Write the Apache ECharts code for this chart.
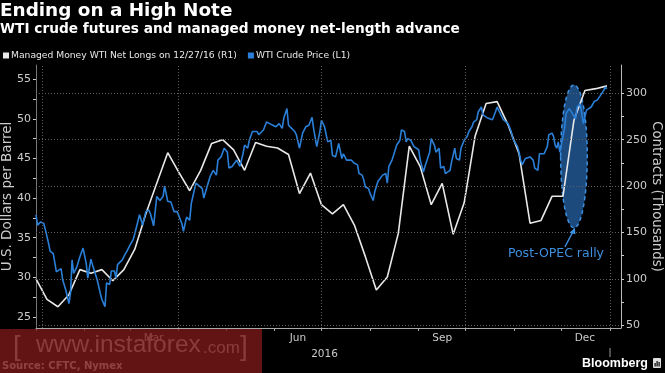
<!DOCTYPE html>
<html><head><meta charset="utf-8">
<script src="https://cdn.jsdelivr.net/npm/echarts@6/dist/echarts.min.js"></script>
<style>html,body{margin:0;padding:0;background:#000;}#c{width:665px;height:373px;}</style>
</head><body><div id="c"></div>
<script>
// x values are days since 2016-01-01
const netLongDays = [0,7,14,21,28,35,42,49,56,63,70,77,84,91,98,105,112,119,126,133,140,147,154,161,168,175,182,189,196,203,210,217,224,231,238,245,252,259,266,273,280,287,294,301,308,315,322,329,336,343,350,357,364];
const netLongs = [100,78,70,83,110,106,110,98,110,132,170,203,236,215,195,217,246,250,239,217,247,243,241,234,192,214,180,170,180,158,124,88,102,149,243,221,180,203,148,182,254,289,291,266,235,160,163,189,189,271,303,305,308];
const priceDays = [0,1,3,5,6,8,9,11,13,14,16,17,19,21,22,23,24,26,28,30,32,33,35,36,39,41,42,44,45,47,48,50,51,52,55,57,58,60,62,63,66,68,70,72,73,75,77,79,81,82,84,86,88,90,91,93,94,96,98,99,100,102,103,106,107,109,111,113,115,116,118,120,122,123,125,128,130,132,133,135,136,138,141,142,145,147,149,151,153,155,157,158,160,161,163,165,166,168,170,172,174,176,177,179,181,182,184,185,186,188,189,191,192,193,195,196,198,199,201,203,205,206,208,209,210,212,213,215,216,218,219,221,223,224,225,227,228,230,232,233,235,236,237,239,241,242,244,245,247,248,250,251,252,254,255,257,258,260,261,264,265,267,268,270,271,273,275,276,278,279,281,282,284,285,286,288,289,291,293,294,296,298,299,301,302,303,304,305,307,308,309,310,312,313,315,317,318,320,321,322,324,326,327,329,330,331,332,333,334,335,337,338,340,341,342,344,345,347,348,349,351,352,354,356,358,360,362,363,364];
const priceValues = [37.9,36.6,37.0,36.8,36.0,34.3,33.3,33.0,30.7,30.5,31.1,29.7,28.4,26.7,28.0,32.2,30.5,31.3,32.6,33.7,31.8,29.9,32.3,31.6,29.7,28.0,27.2,26.3,29.3,29.1,30.8,30.8,29.9,31.6,32.2,33.0,33.3,34.1,34.8,35.5,37.9,36.6,38.3,38.5,38.0,36.5,40.2,39.7,40.2,41.5,39.6,39.5,38.3,38.3,38.3,36.8,35.8,37.6,37.2,39.3,40.2,41.9,42.1,41.2,40.0,41.4,42.7,43.5,42.9,44.8,45.2,46.3,45.8,43.8,44.0,44.8,44.0,45.6,46.7,46.3,47.3,48.4,48.4,48.0,48.6,49.6,49.4,49.2,49.0,49.4,48.8,50.1,51.3,49.2,48.8,48.4,48.0,46.3,48.2,49.0,49.2,50.2,48.8,46.5,48.4,49.8,49.0,48.8,47.1,47.3,45.4,45.2,45.4,46.9,45.0,45.6,44.8,45.0,44.8,44.4,44.2,43.1,42.9,42.3,41.4,41.2,40.6,39.7,40.8,42.1,41.9,42.9,43.1,41.9,44.0,44.8,45.4,46.7,47.3,48.6,48.4,47.1,47.5,47.3,46.5,46.7,46.1,44.8,43.3,44.0,45.2,45.8,47.5,46.7,45.8,46.3,43.8,44.0,43.1,43.5,44.6,46.3,45.0,44.8,46.3,47.3,47.8,48.4,49.0,49.6,49.9,50.9,51.5,50.5,50.5,50.1,50.3,49.9,50.9,51.5,50.7,49.9,50.1,49.4,49.2,48.4,47.5,47.3,46.5,45.8,44.8,44.2,45.0,44.8,45.2,44.8,43.8,43.5,45.6,45.4,45.6,46.5,48.0,48.2,47.8,46.7,46.3,47.1,45.8,46.0,48.8,50.7,51.3,51.1,50.7,50.0,51.5,51.9,51.7,49.4,51.1,51.3,51.5,52.2,52.4,53.0,53.6,54.0,53.8];

const monthStartDays = [0,31,60,91,121,152,182,213,244,274,305,335,366];
const monthLabelDays = [75,167,259,350];
const monthLabels = ['Mar','Jun','Sep','Dec'];
const yearLabel = '2016';
const quarterLineDays = [4,91,182,274,366];
const leftTicks = [25,27.5,30,32.5,35,37.5,40,42.5,45,47.5,50,52.5,55];
const leftLabels = [25,30,35,40,45,50,55];
const rightTicks = [50,75,100,125,150,175,200,225,250,275,300];
const rightLabels = [50,100,150,200,250,300];
const rallyDays = [334.5, 351.5];
const rallyRange = [155, 309];

const nameWhite = 'Managed Money WTI Net Longs on 12/27/16 (R1)';
const nameBlue = 'WTI Crude Price (L1)';
const FONT = '"DejaVu Sans", sans-serif';

const chart = echarts.init(document.getElementById('c'), null, {renderer: 'canvas'});
const option = {
  backgroundColor: '#000',
  animation: false,
  grid: {left: 36, right: 44, top: 65, bottom: 45, containLabel: false, outerBoundsMode: 'none'},
  legend: {
    data: [nameWhite, nameBlue], left: 3, top: 51, icon: 'rect', itemWidth: 6, itemHeight: 6, itemGap: 11,
    textStyle: {color: '#e8e8e8', fontSize: 9.2, fontFamily: FONT, padding: [0,0,0,-3]}, padding: 0
  },
  xAxis: {
    type: 'value', min: 0, max: 373,
    axisLine: {show: true, lineStyle: {color: '#aaa', width: 1}},
    axisTick: {show: true, customValues: monthStartDays, length: 3, lineStyle: {color: '#aaa'}},
    axisLabel: {customValues: monthLabelDays, color: '#ccc', fontSize: 10.5, fontFamily: FONT, margin: 5,
      formatter: v => { const i = monthLabelDays.indexOf(Math.round(v)); return i >= 0 ? monthLabels[i] : ''; }},
    splitLine: {show: false},
    name: yearLabel, nameLocation: 'middle', nameGap: 18,
    nameTextStyle: {color: '#ccc', fontSize: 10.5, fontFamily: FONT, padding: [0, 8, 0, 0]}
  },
  yAxis: [{
    type: 'value', position: 'left', min: 23.61, max: 56.8,
    axisLine: {show: true, lineStyle: {color: '#777'}},
    axisTick: {show: true, customValues: leftTicks, length: 3, lineStyle: {color: '#ccc'}},
    axisLabel: {customValues: leftLabels, color: '#ccc', fontSize: 11, fontFamily: FONT, margin: 5},
    splitLine: {show: false},
    name: 'U.S. Dollars per Barrel', nameLocation: 'middle', nameRotate: 90, nameGap: 22, nameMoveOverlap: false,
    nameTextStyle: {color: '#ccc', fontSize: 13.5, fontFamily: FONT}
  }, {
    type: 'value', position: 'right', min: 47.09, max: 330.5,
    axisLine: {show: true, lineStyle: {color: '#bbb'}},
    axisTick: {show: true, customValues: rightTicks, length: 3, lineStyle: {color: '#ccc'}},
    axisLabel: {customValues: rightLabels, color: '#ccc', fontSize: 11, fontFamily: FONT, margin: 5},
    splitLine: {show: false},
    name: 'Contracts (Thousands)', nameLocation: 'middle', nameRotate: -90, nameGap: 29, nameMoveOverlap: false,
    nameTextStyle: {color: '#ccc', fontSize: 13.3, fontFamily: FONT}
  }],
  series: [{
    name: 'gridlines', type: 'line', yAxisIndex: 1, data: [], z: 1, silent: true,
    markLine: {
      silent: true, symbol: ['none', 'none'], label: {show: false},
      lineStyle: {type: [1, 2], color: '#606060', width: 1},
      emphasis: {disabled: true},
      data: rightLabels.map(v => ({yAxis: v})).concat(quarterLineDays.map(d => ({xAxis: d})))
    }
  }, {
    name: nameWhite, type: 'line', yAxisIndex: 1, showSymbol: false, symbol: 'none', z: 3,
    color: '#e8e8e8', lineStyle: {width: 1.6, color: '#e8e8e8'},
    data: netLongDays.map((d, i) => [d, netLongs[i]])
  }, {
    name: nameBlue, type: 'line', yAxisIndex: 0, showSymbol: false, symbol: 'none', z: 4,
    color: '#2a80d8', lineStyle: {width: 1.6, color: '#2a80d8'},
    data: priceDays.map((d, i) => [d, priceValues[i]])
  }]
};
chart.setOption(option);

// annotation placed from data coordinates
const p1 = chart.convertToPixel({seriesIndex: 1}, [rallyDays[0], rallyRange[1]]);
const p2 = chart.convertToPixel({seriesIndex: 1}, [rallyDays[1], rallyRange[0]]);
const cx = (p1[0] + p2[0]) / 2, cy = (p1[1] + p2[1]) / 2;
const rx = Math.abs(p2[0] - p1[0]) / 2, ry = Math.abs(p2[1] - p1[1]) / 2;
const by = cy + ry;
const yearX = chart.convertToPixel({seriesIndex: 1}, [366, 100])[0];

function txt(text, x, y, font, fill, align) {
  return {type: 'text', x: x, y: y, z: 10,
    style: {text: text, font: font, fill: fill, textAlign: align || 'left', textVerticalAlign: 'middle', align: align || 'left', verticalAlign: 'middle'}};
}

chart.setOption({
  graphic: [
    {type: 'ellipse', z: 0, shape: {cx: cx, cy: cy, rx: rx, ry: ry},
      style: {fill: 'rgba(36,92,155,0.8)', stroke: '#3d8fe0', lineWidth: 1.5, lineDash: [4, 3]}},
    {type: 'line', z: 10, shape: {x1: cx - 9, y1: by + 19, x2: cx + 0.5, y2: by + 1},
      style: {stroke: '#3d8fe0', lineWidth: 1.3}},
    {type: 'polygon', z: 10, shape: {points: [[cx + 1, by], [cx - 4.5, by + 5], [cx + 1.5, by + 6.5]]},
      style: {fill: '#3d8fe0'}},
    txt('Post-OPEC rally', cx - 18, by + 26, '12.5px ' + FONT, '#3d8fe0', 'center'),
    txt('Ending on a High Note', 0, 11.7, 'bold 18.4px ' + FONT, '#ffffff'),
    txt('WTI crude futures and managed money net-length advance', 0, 29.8, 'bold 13.7px ' + FONT, '#ffffff'),
    {type: 'line', z: 5, shape: {x1: yearX, y1: 348, x2: yearX, y2: 357}, style: {stroke: '#999', lineWidth: 1}},
    {type: 'rect', z: 20, shape: {x: 0, y: 329, width: 262, height: 44}, style: {fill: 'rgba(125,26,26,0.78)'}},
    txt('[', 13, 347, '28px "Liberation Sans", sans-serif', '#b0b0b0'),
    txt('www.instaforex', 36, 345, '24.5px "Liberation Sans", sans-serif', '#b4b4b4'),
    txt('.com', 203, 348, '17px "Liberation Sans", sans-serif', '#b4b4b4'),
    txt(']', 240, 347, '28px "Liberation Sans", sans-serif', '#b0b0b0'),
    txt('Source: CFTC, Nymex', 2, 366, 'bold 10px ' + FONT, '#d0d0d0'),
    txt('Bloomberg', 582, 363.5, 'bold 12.5px "Liberation Sans", sans-serif', '#ffffff'),
    {type: 'rect', z: 10, shape: {x: 653, y: 358, width: 8, height: 10, r: 1}, style: {fill: '#e0e0e0'}},
    {type: 'rect', z: 11, shape: {x: 654.5, y: 363, width: 1.2, height: 3.5}, style: {fill: '#000'}},
    {type: 'rect', z: 11, shape: {x: 656.5, y: 361, width: 1.2, height: 5.5}, style: {fill: '#000'}},
    {type: 'rect', z: 11, shape: {x: 658.5, y: 362, width: 1.2, height: 4.5}, style: {fill: '#000'}}
  ]
});
</script>
</body></html>
